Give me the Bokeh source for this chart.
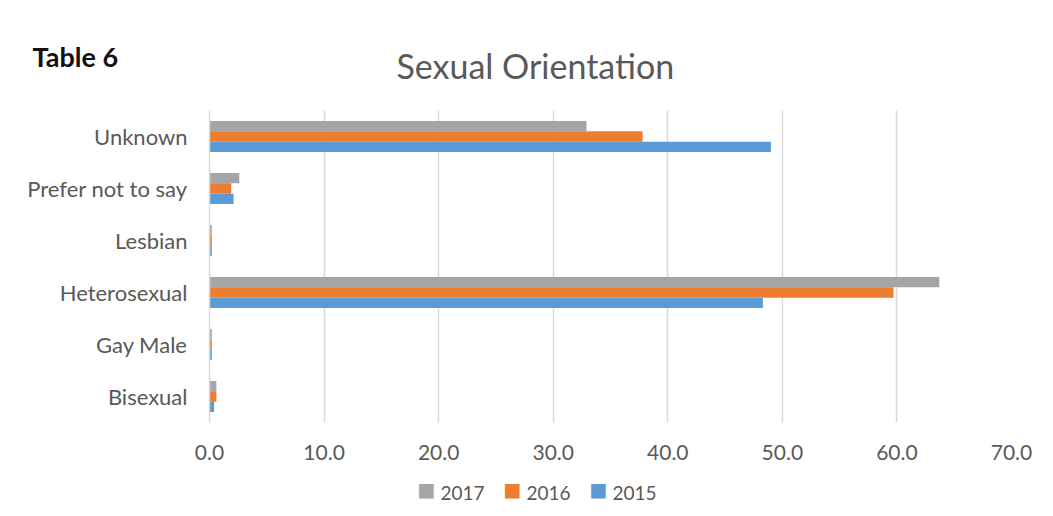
from bokeh.plotting import figure
from bokeh.models import (ColumnDataSource, FactorRange, Range1d,
                          NumeralTickFormatter, FixedTicker, Title)
from bokeh.transform import dodge
from bokeh.embed import file_html
from bokeh.resources import INLINE

# ---- data ----
categories = ["Bisexual", "Gay Male", "Heterosexual", "Lesbian", "Prefer not to say", "Unknown"]
years = ["2017", "2016", "2015"]
v2017 = [0.6, 0.2, 63.7, 0.2, 2.6, 32.9]
v2016 = [0.6, 0.2, 59.7, 0.2, 1.9, 37.8]
v2015 = [0.4, 0.2, 48.3, 0.2, 2.1, 49.0]
x_ticks = [0, 10, 20, 30, 40, 50, 60, 70]
title_text = "Sexual Orientation"
table_text = "Table 6"

colors = {"2017": "#A5A5A5", "2016": "#ED7D31", "2015": "#5B9BD5"}
offsets = {"2017": 0.2, "2016": 0.0, "2015": -0.2}
FONT = "Lato"
TXT = "#595959"

src = ColumnDataSource(dict(cat=categories, v2017=v2017, v2016=v2016, v2015=v2015))

p = figure(width=1037, height=508, y_range=FactorRange(*categories),
           x_range=Range1d(0, 70), output_backend="svg", toolbar_location=None,
           min_border_left=209, min_border_right=26, min_border_top=110,
           min_border_bottom=86)
p.outline_line_color = None
p.background_fill_color = "white"
p.border_fill_color = "white"

for yr in years:
    p.hbar(y=dodge("cat", offsets[yr], range=p.y_range), left=0,
           right="v" + yr, height=0.2, source=src,
           fill_color=colors[yr], line_color=None)

# axes
p.xaxis.ticker = FixedTicker(ticks=x_ticks)
p.xaxis.formatter = NumeralTickFormatter(format="0.0")
p.xaxis.axis_line_color = None
p.xaxis.major_tick_line_color = None
p.xaxis.minor_tick_line_color = None
p.xaxis.major_tick_out = 0
p.xaxis.major_label_text_font = FONT
p.xaxis.major_label_text_font_size = "21px"
p.xaxis.major_label_text_color = TXT
p.xaxis.major_label_standoff = 22

p.yaxis.axis_line_color = "#D9D9D9"
p.yaxis.axis_line_width = 1.5
p.yaxis.major_tick_line_color = None
p.yaxis.minor_tick_line_color = None
p.yaxis.major_tick_out = 0
p.yaxis.major_label_text_font = FONT
p.yaxis.major_label_text_font_size = "22px"
p.yaxis.major_label_text_color = TXT
p.yaxis.major_label_standoff = 22

p.xgrid.ticker = FixedTicker(ticks=x_ticks)
p.xgrid.grid_line_color = "#D9D9D9"
p.xgrid.grid_line_width = 1.5
p.ygrid.grid_line_color = None

# series key below the axis: coloured square + year label for each series
for i, yr in enumerate(years):
    p.add_layout(Title(text="\u25A0", align="left", offset=208 + 86 * i,
                       vertical_align="bottom", standoff=-75,
                       text_font="DejaVu Sans", text_font_size="19px",
                       text_font_style="normal", text_color=colors[yr]), "below")
    p.add_layout(Title(text=yr, align="left", offset=231 + 86 * i,
                       vertical_align="bottom", standoff=-75,
                       text_font=FONT, text_font_size="19px",
                       text_font_style="normal", text_color=TXT), "below")

# header texts
t_title = Title(text=title_text, align="left", offset=187, vertical_align="middle",
                standoff=47, text_font=FONT, text_font_size="34px",
                text_font_style="normal", text_color=TXT)
p.add_layout(t_title, "above")
t_table = Title(text=table_text, align="left", offset=-177, vertical_align="bottom",
                standoff=-104, text_font=FONT, text_font_size="27px",
                text_font_style="bold", text_color="#111111")
p.add_layout(t_table, "above")

open("out.html", "w").write(file_html(p, INLINE))
